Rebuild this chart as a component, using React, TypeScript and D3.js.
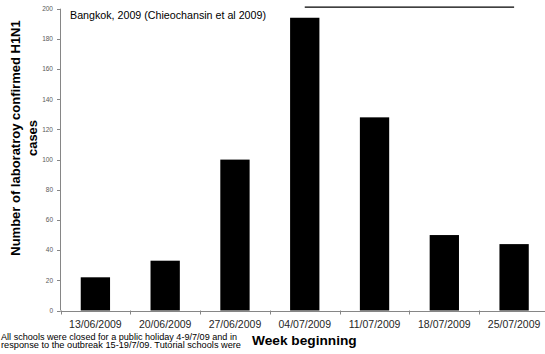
import React from "react";
import * as d3 from "d3";

const weeks = ["13/06/2009", "20/06/2009", "27/06/2009", "04/07/2009", "11/07/2009", "18/07/2009", "25/07/2009"];
const cases = [22, 33, 100, 194, 128, 50, 44];
const yTicks = [0, 20, 40, 60, 80, 100, 120, 140, 160, 180, 200];
const closureStart = "04/07/2009";
const closureEnd = "25/07/2009";
const closureLevel = 201;
const titleText = "Bangkok, 2009 (Chieochansin et al 2009)";
const yLabelLines = ["Number of laboratroy confirmed H1N1", "cases"];
const xLabel = "Week beginning";
const footnote = [
  "All schools were closed for a public holiday 4-9/7/09 and in",
  "response to the outbreak 15-19/7/09. Tutorial schools were",
];
const footnoteWidths = [236, 240];

const W = 545;
const H = 354;
const font = "'Liberation Sans', Arial, sans-serif";
const axisColor = "#868686";

export default function App() {
  const x = d3
    .scaleBand<string>()
    .domain(weeks)
    .range([60.5, 549])
    .paddingInner(0.58)
    .paddingOuter(0.29);
  const y = d3.scaleLinear().domain([0, 200]).range([310.5, 8.7]);
  const step = x.step();
  const x0 = 60.5;
  const boundaries = d3.range(weeks.length + 1).map((i) => x0 + i * step);

  return (
    <svg
      width={W}
      height={H}
      style={{ position: "absolute", left: 0, top: 0, background: "#fff" }}
      fontFamily={font}
    >
      {/* bars */}
      {weeks.map((w, i) => (
        <rect
          key={w}
          x={x(w)}
          y={y(cases[i])}
          width={x.bandwidth()}
          height={y(0) - y(cases[i])}
          fill="#000"
        />
      ))}
      {/* y axis */}
      <line x1={60.5} x2={60.5} y1={y(0)} y2={y(200)} stroke={axisColor} />
      {yTicks.map((t) => (
        <g key={t}>
          <line x1={57} x2={60.5} y1={Math.round(y(t)) + 0.5} y2={Math.round(y(t)) + 0.5} stroke={axisColor} />
          <text x={53} y={y(t) + 2.3} fontSize={6.5} textAnchor="end" fill="#595959">
            {t}
          </text>
        </g>
      ))}
      {/* x axis */}
      <line x1={x0} x2={549} y1={Math.round(y(0)) + 0.5} y2={Math.round(y(0)) + 0.5} stroke={axisColor} />
      {boundaries.map((b, i) => (
        <line key={i} x1={Math.round(b) + 0.5} x2={Math.round(b) + 0.5} y1={y(0)} y2={y(0) + 4} stroke={axisColor} />
      ))}
      {weeks.map((w) => (
        <text
          key={w}
          x={(x(w) as number) + x.bandwidth() / 2}
          y={327.5}
          fontSize={10.5}
          textAnchor="middle"
          fill="#262626"
        >
          {w}
        </text>
      ))}
      {/* closure line */}
      <line
        x1={(x(closureStart) as number) + x.bandwidth() / 2}
        x2={(x(closureEnd) as number) + x.bandwidth() / 2}
        y1={y(closureLevel)}
        y2={y(closureLevel)}
        stroke="#000"
        strokeWidth={1.2}
      />
      {/* title */}
      <text x={70} y={18.5} fontSize={10.5} fill="#000" textLength={196} lengthAdjust="spacingAndGlyphs">
        {titleText}
      </text>
      {/* y label */}
      <g transform="translate(0,138) rotate(-90)">
        {yLabelLines.map((l, i) => (
          <text key={i} x={0} y={20 + i * 17} fontSize={13} fontWeight="bold" textAnchor="middle" fill="#000">
            {l}
          </text>
        ))}
      </g>
      {/* x label */}
      <text x={252} y={345} fontSize={13.7} fontWeight="bold" fill="#000">
        {xLabel}
      </text>
      {/* footnote */}
      {footnote.map((l, i) => (
        <text
          key={i}
          x={1}
          y={339.5 + i * 8.7}
          fontSize={8.2}
          fill="#000"
          textLength={footnoteWidths[i]}
          lengthAdjust="spacingAndGlyphs"
        >
          {l}
        </text>
      ))}
    </svg>
  );
}
